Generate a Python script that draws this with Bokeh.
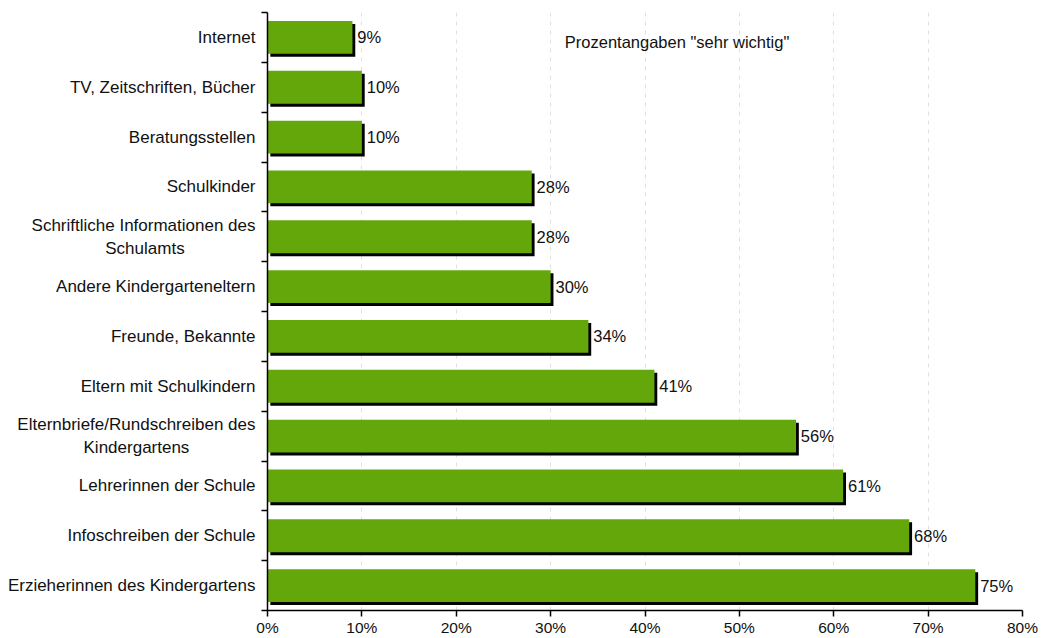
from bokeh.plotting import figure
from bokeh.models import ColumnDataSource, FixedTicker, Range1d, Label, LabelSet
from bokeh.core.properties import value
from bokeh.embed import file_html
from bokeh.resources import INLINE

categories = [
    "Erzieherinnen des Kindergartens",
    "Infoschreiben der Schule",
    "Lehrerinnen der Schule",
    "Elternbriefe/Rundschreiben des\nKindergartens",
    "Eltern mit Schulkindern",
    "Freunde, Bekannte",
    "Andere Kindergarteneltern",
    "Schriftliche Informationen des\nSchulamts",
    "Schulkinder",
    "Beratungsstellen",
    "TV, Zeitschriften, Bücher",
    "Internet",
]
values = [75, 68, 61, 56, 41, 34, 30, 28, 28, 10, 10, 9]
x_ticks = [0, 10, 20, 30, 40, 50, 60, 70, 80]
x_tick_labels = ["0%", "10%", "20%", "30%", "40%", "50%", "60%", "70%", "80%"]
note = 'Prozentangaben "sehr wichtig"'

FONT = "Liberation Sans"
GREEN = "#64a70b"
NBSP = "\u00a0"
# trailing non-breaking spaces centre the 2nd line of a right-aligned tick label
second_line_pad = {"Kindergartens": 14, "Schulamts": 15}

n = len(categories)
ypos = [i + 0.5 for i in range(n)]
src = ColumnDataSource(dict(
    y=ypos,
    ys=[y - 0.06 for y in ypos],
    v=values,
    vs=[v + 0.3 for v in values],
    lab=[f"{v}%" for v in values],
))

p = figure(width=1042, height=638, output_backend="svg", toolbar_location=None,
           x_range=Range1d(0, 80), y_range=Range1d(0, n),
           min_border_left=267, min_border_right=20, min_border_top=12, min_border_bottom=24)
p.outline_line_color = None
p.background_fill_color = "white"
p.border_fill_color = "white"

# shadow then bar
p.hbar(y="ys", left=0.3, right="vs", height=0.66, source=src, fill_color="black", line_color=None)
p.hbar(y="y", left=0, right="v", height=0.66, source=src, fill_color=GREEN, line_color=None)

labels = LabelSet(x="vs", y="y", text="lab", source=src, x_offset=2, text_baseline="middle",
                  text_font=value(FONT), text_font_size="16.5px", text_color="#111111")
p.add_layout(labels)

p.add_layout(Label(x=31.5, y=n - 0.6, text=note, text_font=FONT, text_font_size="16.5px",
                   text_baseline="middle", text_color="#111111"))

overrides = {}
for y, c in zip(ypos, categories):
    if "\n" in c:
        first, second = c.split("\n")
        overrides[y] = first + "\n" + second + NBSP * second_line_pad.get(second, 0)
    else:
        overrides[y] = c

# x axis
p.xaxis.ticker = FixedTicker(ticks=x_ticks)
p.xaxis.major_label_overrides = {t: l for t, l in zip(x_ticks, x_tick_labels)}
p.xaxis.major_tick_in = 0
p.xaxis.major_tick_out = 6
p.xaxis.minor_tick_line_color = None
p.xaxis.major_label_standoff = 2
p.xaxis.major_label_text_font = FONT
p.xaxis.major_label_text_font_size = "15.5px"
p.xaxis.major_label_text_color = "#111111"
p.xaxis.axis_line_color = "black"
p.xaxis.axis_line_width = 1.5
p.xaxis.major_tick_line_color = "black"
p.xaxis.major_tick_line_width = 1.5

# y axis
p.yaxis.ticker = FixedTicker(ticks=ypos, minor_ticks=list(range(n + 1)))
p.yaxis.major_label_overrides = overrides
p.yaxis.major_tick_line_color = None
p.yaxis.minor_tick_in = 0
p.yaxis.minor_tick_out = 6
p.yaxis.minor_tick_line_color = "black"
p.yaxis.minor_tick_line_width = 1.5
p.yaxis.axis_line_width = 1.5
p.yaxis.major_label_standoff = 6
p.yaxis.major_label_text_font = FONT
p.yaxis.major_label_text_font_size = "17px"
p.yaxis.major_label_text_color = "#111111"

p.xgrid.ticker = FixedTicker(ticks=x_ticks[1:])
p.xgrid.grid_line_color = "#e0e0e0"
p.xgrid.grid_line_dash = "4 5"
p.ygrid.grid_line_color = None

open("out.html", "w").write(file_html(p, INLINE))
